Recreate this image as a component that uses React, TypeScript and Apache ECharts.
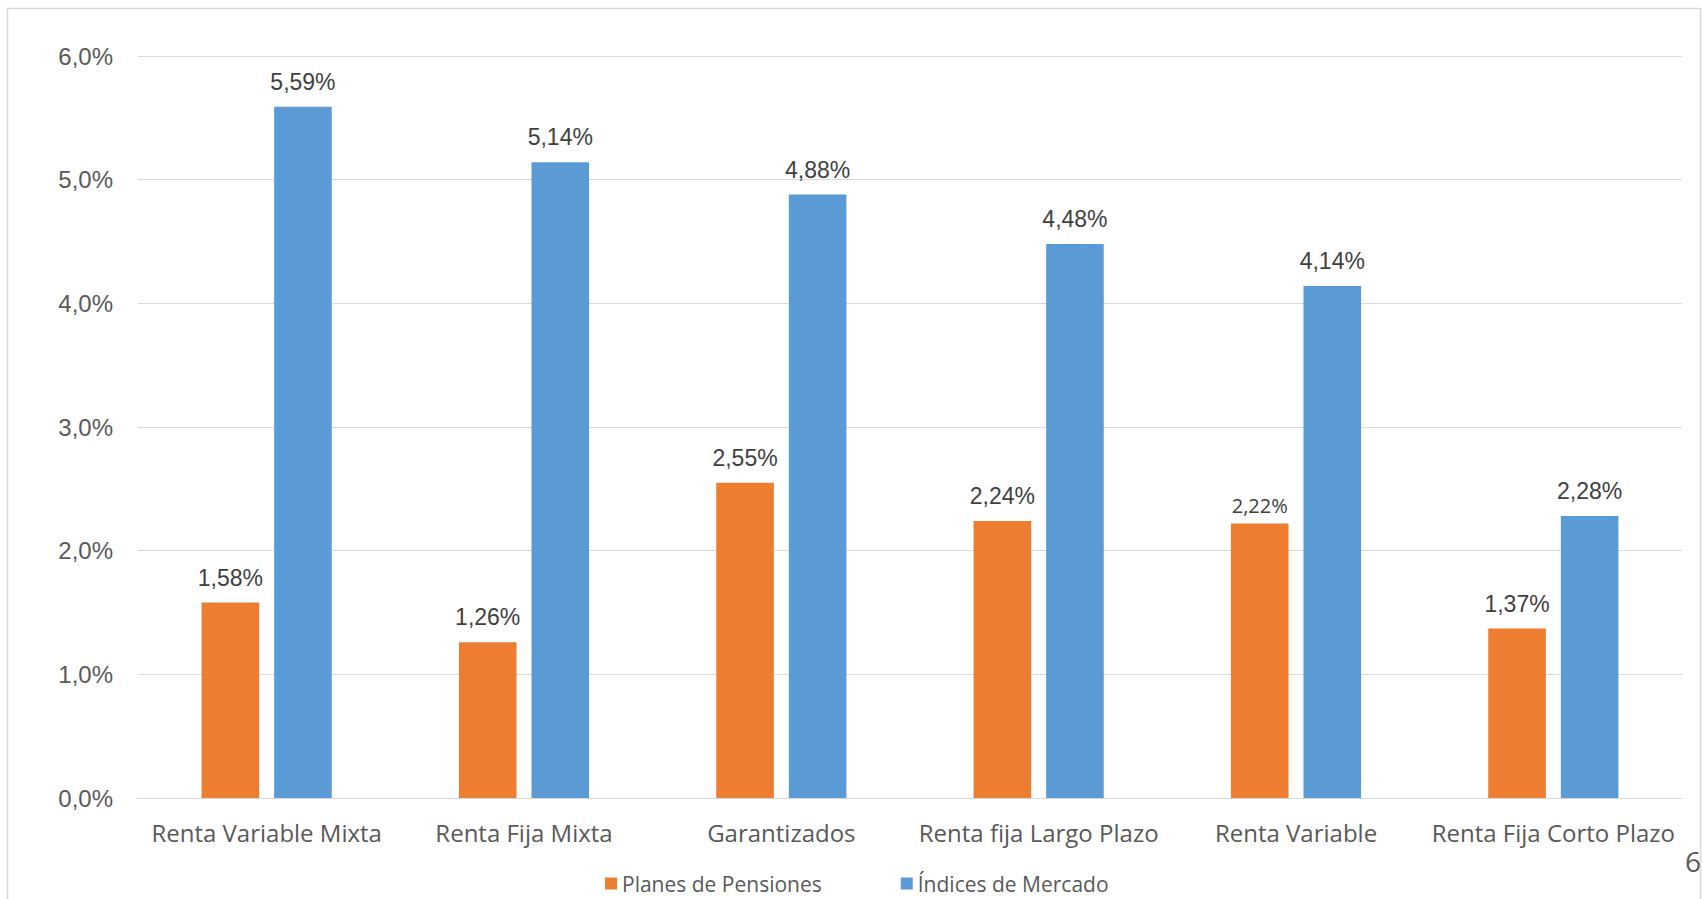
import React, { useEffect, useRef } from "react";
import * as echarts from "echarts";

const categories = [
  "Renta Variable Mixta",
  "Renta Fija Mixta",
  "Garantizados",
  "Renta fija Largo Plazo",
  "Renta Variable",
  "Renta Fija Corto Plazo",
];
const planesPensiones = [1.58, 1.26, 2.55, 2.24, 2.22, 1.37];
const indicesMercado = [5.59, 5.14, 4.88, 4.48, 4.14, 2.28];
const seriesNames = ["Planes de Pensiones", "Índices de Mercado"];
const yTicks = { min: 0, max: 6, interval: 1 };
const pageNumber = "6";

const fmt = (v: number, d: number) => v.toFixed(d).replace(".", ",") + "%";

export default function App() {
  const ref = useRef<HTMLDivElement>(null);
  useEffect(() => {
    if (!ref.current) return;
    const chart = echarts.init(ref.current, undefined, { renderer: "svg" });
    const arialLabel = {
      show: true,
      position: "top",
      distance: 13,
      fontFamily: "Liberation Sans, Arial, sans-serif",
      fontSize: 23,
      lineHeight: 24,
      color: "#404040",
      formatter: (p: any) => fmt(p.value, 2),
    };
    const planesData = planesPensiones.map((v, i) =>
      categories[i] === "Renta Variable"
        ? {
            value: v,
            label: {
              fontFamily: "Open Sans, sans-serif",
              fontSize: 20,
              lineHeight: 20,
              distance: 8,
            },
          }
        : v
    );
    chart.setOption({
      animation: false,
      backgroundColor: "#ffffff",
      grid: { left: 138, right: 21, top: 56, bottom: 101, containLabel: false },
      legend: {
        data: [
          { name: seriesNames[0], icon: "rect" },
          { name: seriesNames[1], icon: "rect" },
        ],
        left: 600,
        top: 868,
        itemWidth: 12,
        itemHeight: 12,
        itemGap: 79,
        textStyle: {
          fontFamily: "Open Sans, sans-serif",
          fontSize: 21,
          lineHeight: 21,
          color: "#595959",
          padding: [0, 0, 0, 0],
        },
      },
      xAxis: {
        type: "category",
        data: categories,
        axisLine: { show: true, lineStyle: { color: "#d9d9d9", width: 1 } },
        axisTick: { show: false },
        axisLabel: {
          interval: 0,
          margin: 21,
          fontFamily: "Open Sans, sans-serif",
          fontSize: 24,
          lineHeight: 26,
          color: "#595959",
        },
      },
      yAxis: {
        type: "value",
        min: yTicks.min,
        max: yTicks.max,
        interval: yTicks.interval,
        axisLine: { show: false },
        axisTick: { show: false },
        splitLine: { lineStyle: { color: "#d9d9d9", width: 1 } },
        axisLabel: {
          margin: 25,
          fontFamily: "Liberation Sans, Arial, sans-serif",
          fontSize: 24,
          color: "#595959",
          formatter: (v: number) => fmt(v, 1),
        },
      },
      series: [
        {
          name: seriesNames[0],
          type: "bar",
          data: planesData,
          barWidth: 57.6,
          barGap: "26%",
          itemStyle: { color: "#ED7D31" },
          label: arialLabel,
        },
        {
          name: seriesNames[1],
          type: "bar",
          data: indicesMercado,
          barWidth: 57.6,
          barGap: "26%",
          itemStyle: { color: "#5B9BD5" },
          label: arialLabel,
        },
      ],
      graphic: [
        {
          type: "rect",
          shape: { x: 7.5, y: 8.5, width: 1693, height: 910 },
          style: { fill: "none", stroke: "#d9d9d9", lineWidth: 1.5 },
          silent: true,
        },
        {
          type: "text",
          x: 1685,
          y: 861,
          style: {
            text: pageNumber,
            fontFamily: "Open Sans, sans-serif",
            fontSize: 28,
            fill: "#595959",
            verticalAlign: "middle",
          },
        },
      ],
    });
    return () => chart.dispose();
  }, []);
  return (
    <div
      ref={ref}
      style={{ position: "fixed", left: 0, top: 0, width: 1703, height: 899 }}
    />
  );
}
